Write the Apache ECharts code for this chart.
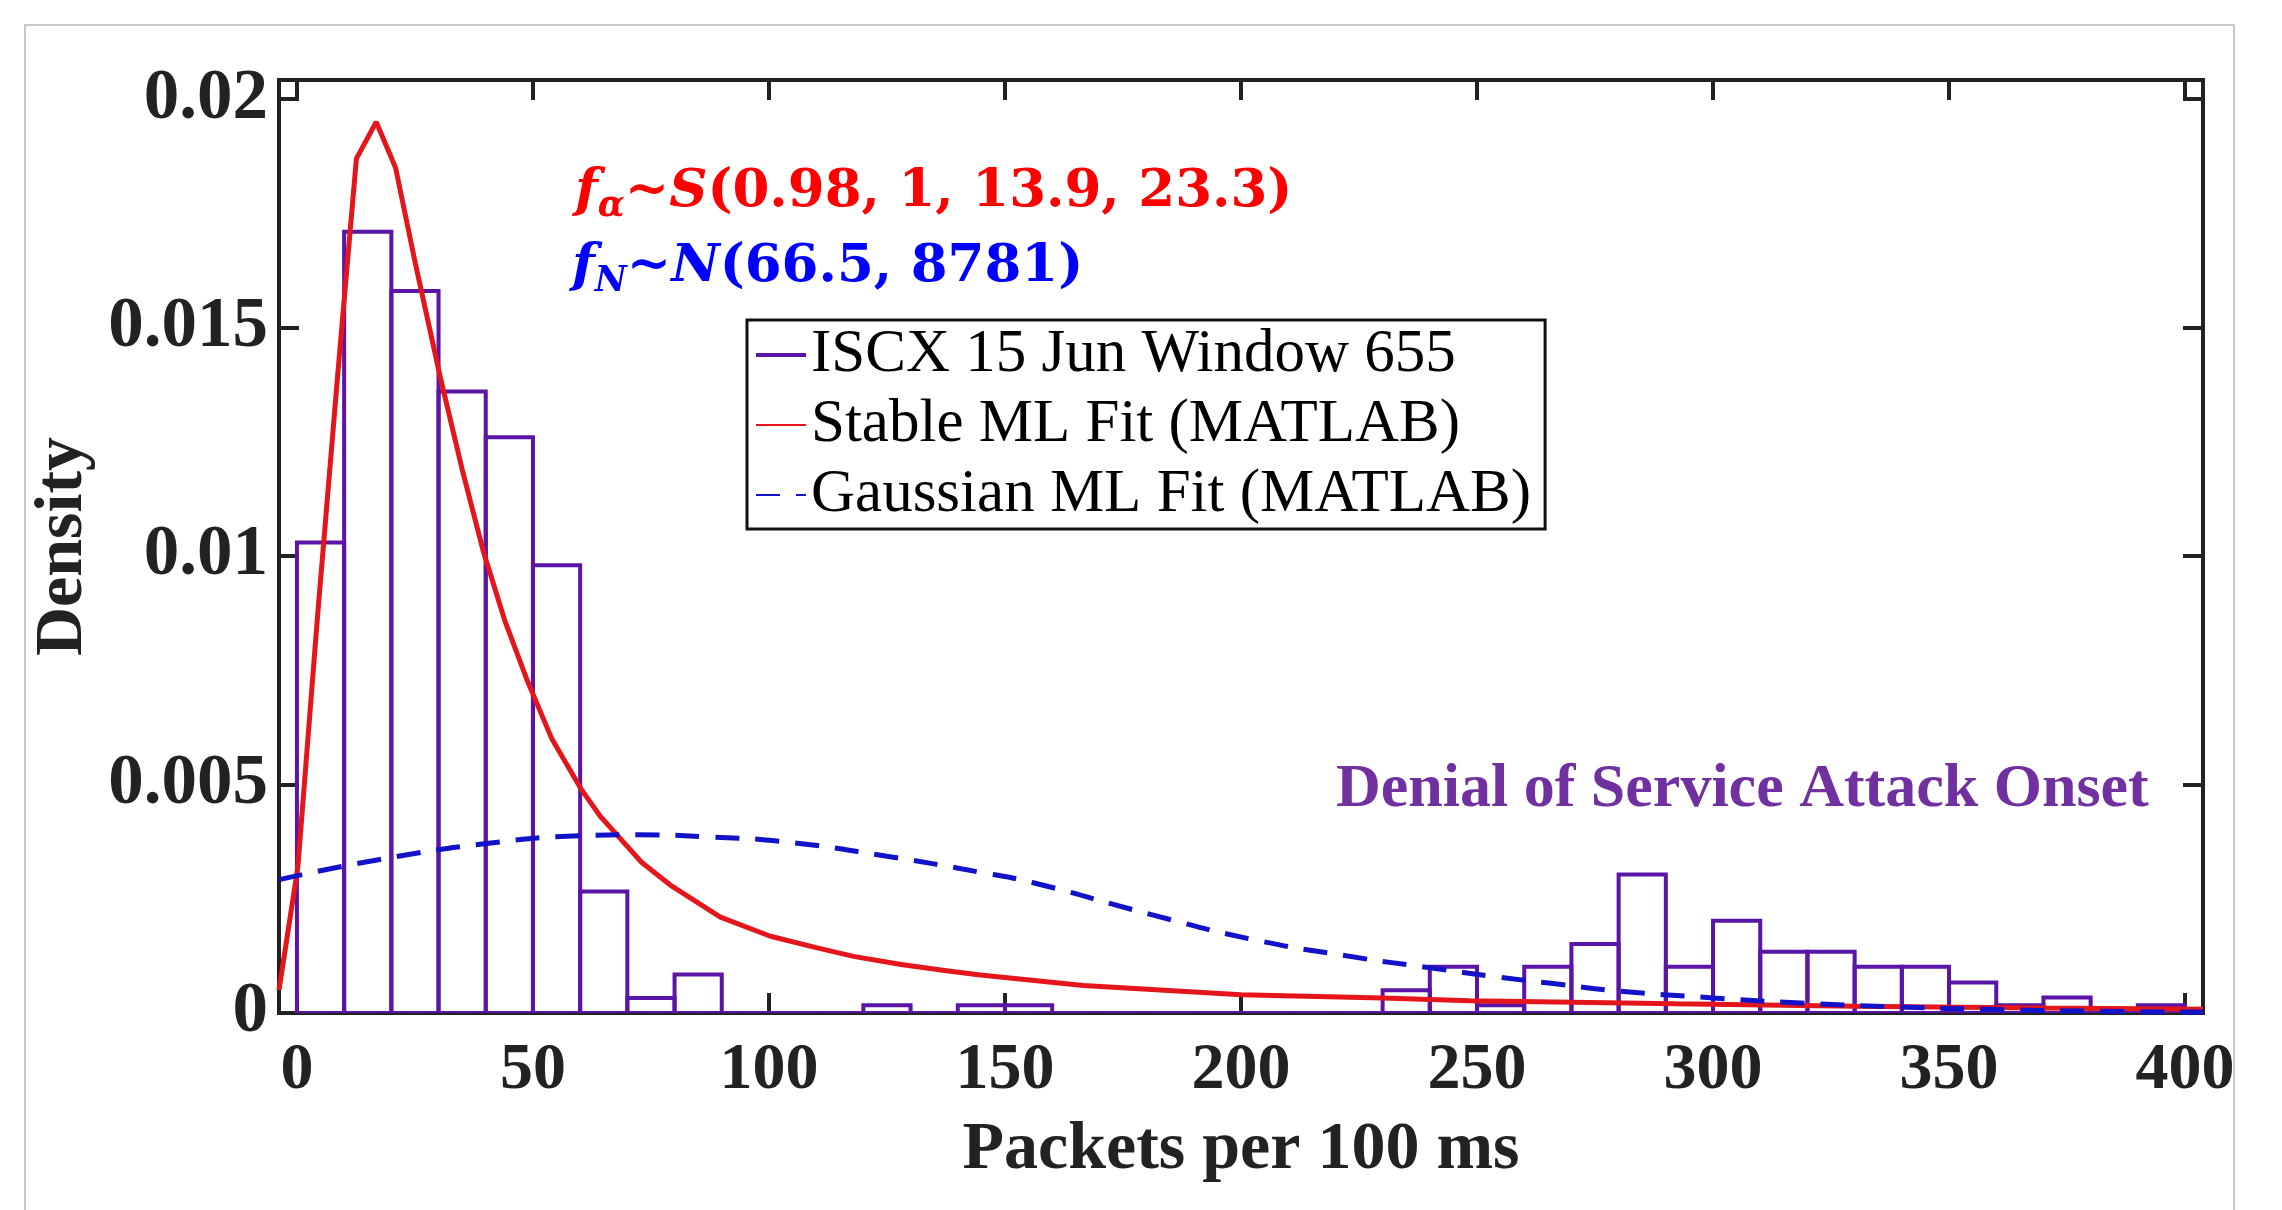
<!DOCTYPE html>
<html>
<head>
<meta charset="utf-8">
<title>ISCX 15 Jun Window 655</title>
<script src="https://cdn.jsdelivr.net/npm/echarts@6/dist/echarts.min.js"></script>
<style>
html, body { margin: 0; padding: 0; background: #fff; }
#chart { width: 2282px; height: 1210px; }
</style>
</head>
<body>
<div id="chart"></div>
<script>
// histogram, bins of width 10 (left edges) and density
var binWidth = 10;
var binLeft = [0, 10, 20, 30, 40, 50, 60, 70, 80, 90,
    100, 110, 120, 130, 140, 150, 160, 170, 180, 190,
    200, 210, 220, 230, 240, 250, 260, 270, 280, 290,
    300, 310, 320, 330, 340, 350, 360, 370, 380, 390];
var density = [0.0103, 0.0171, 0.0158, 0.0136, 0.0126, 0.0098, 0.00266, 0.00033, 0.00084, 0,
    0, 0, 0.00017, 0, 0.00017, 0.00017, 0, 0, 0, 0,
    0, 0, 0, 0.0005, 0.00101, 0.00017, 0.00101, 0.00151, 0.00303, 0.00101,
    0.00202, 0.00134, 0.00134, 0.00101, 0.00101, 0.00067, 0.00017, 0.00034, 0, 0.00017];

// stable fit curve (red)
var stableX = [-3.8, 0.2, 4.3, 8.5, 12.6, 16.8, 20.9, 25.1, 30.4, 35, 39.5, 44, 48.7, 54, 60.2, 64.3,
    67.8, 73, 79.1, 89.7, 100.3, 110, 117.9, 128, 138, 144.8, 166.6, 200, 230, 248.5, 292, 330, 370, 403.8];
var stableY = [0.0005, 0.0032, 0.0086, 0.0138, 0.0187, 0.0195, 0.0185, 0.0164, 0.0139, 0.0119, 0.0101, 0.0086, 0.0073, 0.0060, 0.0049, 0.0043,
    0.0039, 0.0033, 0.0028, 0.0021, 0.00168, 0.00143, 0.00124, 0.00106, 0.00092, 0.00083, 0.0006, 0.0004, 0.00033, 0.00027, 0.0002, 0.00015, 0.00011, 0.00008];

// gaussian fit curve (blue dashed)
var gaussX = [-3.8, 17.6, 40.2, 60.4, 72, 86.1, 103.8, 125, 144.8, 156, 180.8, 202, 223, 240, 255, 265.7, 279, 300, 318.6, 340, 358.7, 380, 403.8];
var gaussY = [0.00292, 0.00336, 0.00371, 0.00388, 0.0039, 0.00386, 0.00374, 0.00343, 0.00308, 0.00285, 0.00216, 0.00162, 0.00124, 0.00099, 0.00078, 0.00065, 0.00049, 0.00033, 0.00022, 0.00013, 0.00008, 0.00004, 0.00002];

var xTicks = [0, 50, 100, 150, 200, 250, 300, 350, 400];
var yTicks = [0, 0.005, 0.01, 0.015, 0.02];

var histName = 'ISCX 15 Jun Window 655';
var stableName = 'Stable ML Fit (MATLAB)';
var gaussName = 'Gaussian ML Fit (MATLAB)';

var purple = '#5a14a6';
var red = '#e4151b';
var blue = '#1212c8';
var axisColor = '#222222';
var serif = "'Liberation Serif', 'Times New Roman', serif";

var histData = [];
for (var i = 0; i < binLeft.length; i++) {
    histData.push([binLeft[i], binLeft[i] + binWidth, density[i]]);
}
var stableData = [];
for (var i = 0; i < stableX.length; i++) stableData.push([stableX[i], stableY[i]]);
var gaussData = [];
for (var i = 0; i < gaussX.length; i++) gaussData.push([gaussX[i], gaussY[i]]);

function xAxisOf(pos, labels) {
    return {
        type: 'value', position: pos, min: -3.8, max: 403.8,
        axisLine: { show: false, onZero: false },
        splitLine: { show: false },
        axisTick: { show: true, inside: true, length: 20, customValues: xTicks,
            lineStyle: { color: axisColor, width: 4 } },
        axisLabel: { show: labels, customValues: xTicks, margin: 25,
            fontFamily: serif, fontWeight: 'bold', fontSize: 66, color: axisColor }
    };
}
function yAxisOf(pos, labels) {
    return {
        type: 'value', position: pos, min: 0, max: 0.02042,
        axisLine: { show: false, onZero: false },
        splitLine: { show: false },
        axisTick: { show: true, inside: true, length: 20, customValues: yTicks,
            lineStyle: { color: axisColor, width: 4 } },
        axisLabel: { show: labels, customValues: yTicks, margin: 11,
            fontFamily: serif, fontWeight: 'bold', fontSize: 71, color: axisColor }
    };
}

var xBottom = xAxisOf('bottom', true);
xBottom.name = 'Packets per 100 ms';
xBottom.nameLocation = 'middle';
xBottom.nameGap = 103;
xBottom.nameTextStyle = { fontFamily: serif, fontWeight: 'bold', fontSize: 68, color: axisColor };

var yLeft = yAxisOf('left', true);
yLeft.name = 'Density';
yLeft.nameLocation = 'middle';
yLeft.nameGap = 180;
yLeft.nameTextStyle = { fontFamily: serif, fontWeight: 'bold', fontSize: 68, color: axisColor };

function formulaStyle(colour) {
    var base = { fontFamily: 'DejaVu Serif', fontWeight: 'bold', fontSize: 53, lineHeight: 64, fill: colour };
    return {
        f: echarts.util.extend({ fontStyle: 'italic' }, base),
        sub: { fontFamily: 'DejaVu Serif', fontStyle: 'italic', fontWeight: 'bold', fontSize: 35, lineHeight: 35,
            verticalAlign: 'bottom', fill: colour },
        t: echarts.util.extend({}, base),
        s: echarts.util.extend({ fontStyle: 'italic' }, base),
        n: echarts.util.extend({}, base)
    };
}

var myChart = echarts.init(document.getElementById('chart'));

myChart.setOption({
    animation: false,
    backgroundColor: '#ffffff',
    grid: {
        left: 279, top: 80, right: 79, bottom: 197,
        show: true, borderColor: axisColor, borderWidth: 4, backgroundColor: 'transparent'
    },
    // bottom/left carry the labels, top/right only the inward ticks of the box
    xAxis: [xBottom, xAxisOf('top', false)],
    yAxis: [yLeft, yAxisOf('right', false)],
    legend: {
        orient: 'vertical',
        left: 747, top: 320,
        padding: [4, 14, 3, 8],
        itemWidth: 50, itemHeight: 12, itemGap: 8,
        borderColor: '#111111', borderWidth: 3, backgroundColor: '#ffffff',
        selectedMode: false,
        textStyle: { fontFamily: serif, fontSize: 61, lineHeight: 62, color: '#000000' },
        data: [
            { name: histName, icon: 'path://M0,0H50V4H0Z' },
            { name: stableName, itemStyle: { opacity: 0 } },
            { name: gaussName, itemStyle: { opacity: 0 } }
        ]
    },
    graphic: [
        {   // light frame round the figure
            type: 'rect', z: -10, silent: true,
            shape: { x: 25, y: 25, width: 2209, height: 1300 },
            style: { fill: 'none', stroke: '#c8c8c8', lineWidth: 2 }
        },
        {
            type: 'text', x: 575, y: 192,
            style: {
                text: '{f|f}{sub|α}{t|~}{s|S}{n|(0.98, 1, 13.9, 23.3)}',
                verticalAlign: 'middle',
                rich: formulaStyle('#ff0000')
            }
        },
        {
            type: 'text', x: 572, y: 267,
            style: {
                text: '{f|f}{sub|N}{t|~}{s|N}{n|(66.5, 8781)}',
                verticalAlign: 'middle',
                rich: formulaStyle('#0000ff')
            }
        },
        {
            type: 'text', x: 1336, y: 790,
            style: {
                text: 'Denial of Service Attack Onset',
                verticalAlign: 'middle',
                fontFamily: serif, fontWeight: 'bold', fontSize: 62, fill: '#7030a0'
            }
        }
    ],
    series: [
        {
            name: histName,
            type: 'custom',
            clip: true,
            itemStyle: { color: purple },
            encode: { x: [0, 1], y: 2 },
            renderItem: function (params, api) {
                var p0 = api.coord([api.value(0), 0]);
                var p1 = api.coord([api.value(1), api.value(2)]);
                return {
                    type: 'rect',
                    shape: { x: p0[0], y: p1[1], width: p1[0] - p0[0], height: p0[1] - p1[1] },
                    style: { fill: 'none', stroke: purple, lineWidth: 4 }
                };
            },
            data: histData
        },
        {
            name: stableName,
            type: 'line',
            symbol: 'none',
            smooth: false,
            color: red,
            lineStyle: { color: red, width: 5 },
            data: stableData
        },
        {
            name: gaussName,
            type: 'line',
            symbol: 'none',
            smooth: true,
            color: blue,
            lineStyle: { color: blue, width: 5, type: [24, 16] },
            data: gaussData
        }
    ]
});
</script>
</body>
</html>
